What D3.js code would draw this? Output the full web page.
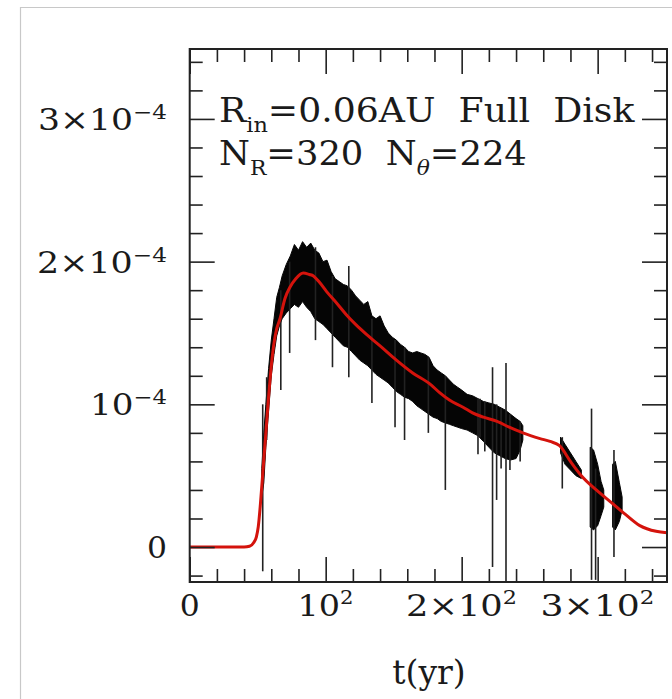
<!DOCTYPE html>
<html>
<head>
<meta charset="utf-8">
<script src="https://cdn.jsdelivr.net/npm/d3@7"></script>
<style>
html, body { margin: 0; padding: 0; background: #fff; }
svg { display: block; }
text { font-family: "DejaVu Serif", serif; fill: #1a1a1a; white-space: pre; }
</style>
</head>
<body>
<script>
// values are in units of 1e-4, time in yr

// smooth (red) curve
const redT = [0, 40, 44, 47, 49, 50.4, 52, 54, 56, 58, 60, 62, 64, 66.4, 70, 73.7, 78, 83.5, 88, 91, 95, 100.7, 108, 115, 122, 130, 140, 152, 164, 177, 184, 191, 201, 208, 216, 226, 235, 245, 257.6, 265, 272, 280, 288, 299, 309, 319, 331, 343, 351];
const redV = [0, 0, 0.005, 0.03, 0.07, 0.14, 0.30, 0.55, 0.80, 1.05, 1.27, 1.43, 1.53, 1.60, 1.74, 1.82, 1.88, 1.92, 1.91, 1.90, 1.86, 1.79, 1.71, 1.63, 1.56, 1.49, 1.41, 1.31, 1.22, 1.14, 1.08, 1.03, 0.98, 0.94, 0.91, 0.88, 0.84, 0.80, 0.76, 0.74, 0.71, 0.60, 0.50, 0.40, 0.32, 0.24, 0.15, 0.11, 0.10];

// noisy (black) run: upper / lower edge of the dense band, null = gap
const bandT  = [53, 54.5, 56, 58, 60, 62, 64, 66, 68, 71, 74, 77, 80, 83, 86, 89, 92, 95, 98, 101, 104, 107, 110, 113, 116, 119, 122, 125, 128, 131, 134, 137, 140, 143, 146, 149, 152, 155, 158, 161, 164, 167, 170, 173, 176, 179, 182, 185, 188, 191, 194, 197, 200, 204, 208, 212, 216, 220, 224, 228, 232, 236, 240, 243, 245,
                null, 272.7, 276, 280, 284, 288,
                null, 294.5, 297, 300, 302.5, 304.5,
                null, 311, 313, 316, 318];
const bandHi = [0.55, 0.80, 1.00, 1.25, 1.45, 1.60, 1.75, 1.82, 1.90, 1.98, 2.04, 2.12, 2.08, 2.14, 2.10, 2.13, 2.08, 2.06, 2.00, 2.01, 1.93, 1.88, 1.86, 1.84, 1.83, 1.80, 1.76, 1.73, 1.70, 1.72, 1.62, 1.60, 1.62, 1.55, 1.50, 1.47, 1.45, 1.42, 1.40, 1.37, 1.36, 1.37, 1.36, 1.35, 1.33, 1.27, 1.24, 1.22, 1.20, 1.17, 1.14, 1.12, 1.10, 1.07, 1.06, 1.04, 1.02, 1.01, 1.00, 0.98, 0.96, 0.93, 0.90, 0.88, 0.85,
                null, 0.77, 0.72, 0.66, 0.60, 0.54,
                null, 0.70, 0.68, 0.58, 0.46, 0.40,
                null, 0.58, 0.60, 0.45, 0.35];
const bandLo = [0.35, 0.45, 0.70, 0.95, 1.20, 1.35, 1.48, 1.55, 1.60, 1.64, 1.67, 1.70, 1.68, 1.72, 1.68, 1.65, 1.60, 1.58, 1.56, 1.53, 1.50, 1.47, 1.44, 1.41, 1.40, 1.37, 1.34, 1.31, 1.29, 1.27, 1.24, 1.21, 1.19, 1.17, 1.15, 1.12, 1.09, 1.07, 1.05, 1.04, 1.02, 0.99, 0.97, 0.95, 0.93, 0.91, 0.90, 0.88, 0.87, 0.86, 0.85, 0.84, 0.83, 0.82, 0.80, 0.78, 0.74, 0.70, 0.66, 0.64, 0.62, 0.61, 0.62, 0.68, 0.75,
                null, 0.66, 0.58, 0.54, 0.50, 0.48,
                null, 0.14, 0.12, 0.15, 0.22, 0.28,
                null, 0.14, 0.12, 0.18, 0.26];

// single drop-outs / spikes of the black run
const spikeT  = [53.7, 56.6, 67, 73.5, 92.5, 105, 117, 134, 151, 158, 175.5, 188, 212, 213.5, 217, 222.7, 225.7, 229, 232.6, 235.5, 243, 274, 295.5, 298.5, 312];
const spikeLo = [-0.17, 0.75, 1.10, 1.36, 1.45, 1.26, 1.19, 1.01, 0.84, 0.75, 0.80, 0.40, 0.65, 0.77, 0.67, -0.14, 0.33, 0.55, -0.24, 0.54, 0.60, 0.41, -0.23, -0.23, -0.07];
const spikeHi = [1.00, 1.19, 1.80, 2.00, 2.10, 1.90, 1.97, 1.60, 1.45, 1.40, 1.33, 1.20, 1.04, 1.04, 1.02, 1.26, 1.00, 0.97, 1.29, 0.93, 0.88, 0.77, 0.97, 0.55, 0.68];

// axes
const xMajor = [0, 100, 200, 300];
const xMinor = [20, 40, 60, 80, 120, 140, 160, 180, 220, 240, 260, 280, 320, 340];
const xLabels = [["0", ""], ["10", "2"], ["2×10", "2"], ["3×10", "2"]];
const xLabelW = [20, 56, 111, 114];
const yMajor = [0, 1, 2, 3];
const yMinor = [-0.2, 0.2, 0.4, 0.6, 0.8, 1.2, 1.4, 1.6, 1.8, 2.2, 2.4, 2.6, 2.8, 3.2, 3.4];
const yLabels = [["0", ""], ["10", "−4"], ["2×10", "−4"], ["3×10", "−4"]];
const yLabelW = [20, 77, 130, 129];

const W = 672, H = 699;
const L = 189.7, R = 667, T = 49, B = 582;

const svg = d3.select("body").append("svg").attr("width", W).attr("height", H);

// page box
svg.append("path").attr("d", `M20.5,${H} V7.5 H${W}`)
   .attr("fill", "none").attr("stroke", "#c8c8c8").attr("stroke-width", 1.2);

const x = d3.scaleLinear([0, 351], [L, R]);
const y = d3.scaleLinear([-0.245, 3.49], [B, T]);

svg.append("clipPath").attr("id", "clip")
   .append("rect").attr("x", L).attr("y", T).attr("width", R - L).attr("height", B - T);

const plot = svg.append("g").attr("clip-path", "url(#clip)");

// black band
const band = bandT.map((t, i) => ({t, hi: bandHi[i], lo: bandLo[i]}));
const area = d3.area()
  .defined(d => d.t != null)
  .x(d => x(d.t)).y0(d => y(d.lo)).y1(d => y(d.hi));
plot.append("path").datum(band).attr("d", area)
    .attr("fill", "#050505").attr("stroke", "#050505").attr("stroke-width", 1);

plot.selectAll("line.spike").data(spikeT).join("line").attr("class", "spike")
    .attr("x1", d => x(d)).attr("x2", d => x(d))
    .attr("y1", (d, i) => y(spikeLo[i])).attr("y2", (d, i) => y(spikeHi[i]))
    .attr("stroke", "#222").attr("stroke-width", 1.6);

// red curve
const red = redT.map((t, i) => [t, redV[i]]);
plot.append("path").datum(red)
    .attr("d", d3.line().x(d => x(d[0])).y(d => y(d[1])).curve(d3.curveMonotoneX))
    .attr("fill", "none").attr("stroke", "#d4130c").attr("stroke-width", 3);

// ticks, all pointing inward
const MAJ = 25, MIN = 13;
function ticks(axis, tr, vals, len) {
  svg.append("g").attr("transform", tr)
     .call(axis.tickValues(vals).tickSize(len).tickFormat(""))
     .call(g => g.select(".domain").remove())
     .call(g => g.selectAll("line").attr("stroke", "#222").attr("stroke-width", 1.6));
}
ticks(d3.axisTop(x), `translate(0,${B})`, xMajor, MAJ);
ticks(d3.axisTop(x), `translate(0,${B})`, xMinor, MIN);
ticks(d3.axisBottom(x), `translate(0,${T})`, xMajor, MAJ);
ticks(d3.axisBottom(x), `translate(0,${T})`, xMinor, MIN);
ticks(d3.axisRight(y), `translate(${L},0)`, yMajor, MAJ);
ticks(d3.axisRight(y), `translate(${L},0)`, yMinor, MIN);
ticks(d3.axisLeft(y), `translate(${R},0)`, yMajor, MAJ);
ticks(d3.axisLeft(y), `translate(${R},0)`, yMinor, MIN);

svg.append("rect").attr("x", L).attr("y", T).attr("width", R - L).attr("height", B - T)
   .attr("fill", "none").attr("stroke", "#222").attr("stroke-width", 2);

// stretch a text horizontally about x0 to a given width
function fit(t, x0, w) {
  const bw = t.node().getBBox().width;
  t.attr("transform", `translate(${x0},0) scale(${w / bw},1) translate(${-x0},0)`);
}

// tick labels
yMajor.forEach((v, i) => {
  const t = svg.append("text").attr("x", 167).attr("y", y(v) + 11)
     .attr("text-anchor", "end").attr("font-size", 30);
  t.append("tspan").text(yLabels[i][0]);
  if (yLabels[i][1]) t.append("tspan").attr("font-size", 20).attr("dy", -11).text(yLabels[i][1]);
  fit(t, 167, yLabelW[i]);
});
xMajor.forEach((v, i) => {
  const t = svg.append("text").attr("x", x(v)).attr("y", 616)
     .attr("text-anchor", "middle").attr("font-size", 30);
  t.append("tspan").text(xLabels[i][0]);
  if (xLabels[i][1]) t.append("tspan").attr("font-size", 19).attr("dy", -12).text(xLabels[i][1]);
  fit(t, x(v) + 1, xLabelW[i]);
});

svg.append("text").attr("x", 429).attr("y", 684).attr("text-anchor", "middle")
   .attr("font-size", 33).text("t(yr)");

// annotation
const a1 = svg.append("text").attr("x", 219).attr("y", 122).attr("font-size", 34);
a1.append("tspan").text("R");
a1.append("tspan").attr("font-size", 21).attr("dy", 10).text("in");
a1.append("tspan").attr("dy", -10).text("=0.06AU  Full  Disk");
fit(a1, 219, 416);

const a2 = svg.append("text").attr("x", 219).attr("y", 165).attr("font-size", 34);
a2.append("tspan").text("N");
a2.append("tspan").attr("font-size", 21).attr("dy", 10).text("R");
a2.append("tspan").attr("dy", -10).text("=320  N");
a2.append("tspan").attr("font-size", 21).attr("dy", 10).attr("font-style", "italic").text("θ");
a2.append("tspan").attr("dy", -10).text("=224");
fit(a2, 219, 308);
</script>
</body>
</html>
